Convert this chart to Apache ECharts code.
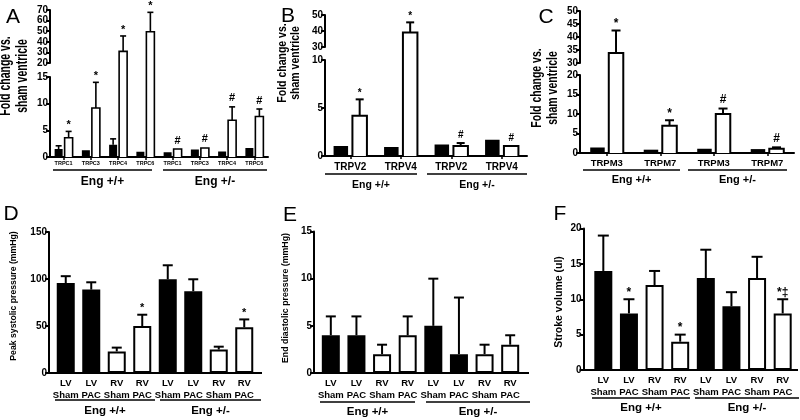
<!DOCTYPE html>
<html><head><meta charset="utf-8">
<script src="https://cdn.jsdelivr.net/npm/echarts@6/dist/echarts.min.js"></script>
<style>html,body{margin:0;padding:0;background:#fff}#c{width:800px;height:420px}</style>
</head><body><div id="c"></div>
<script>
// ---------------- DATA ----------------
const groups = ['Eng +/+', 'Eng +/-'];

// Panel A (TRPC), broken y axis
const aCats = ['TRPC1','TRPC3','TRPC4','TRPC6','TRPC1','TRPC3','TRPC4','TRPC6'];
const aSham = [1.5, 1.25, 2.3, 1.0, 0.9, 1.4, 1.05, 1.7];
const aShamErr = [2.1, 1.25, 3.4, 1.0, 0.9, 1.4, 1.05, 1.7];
const aPac = [3.6, 9.2, 31, 49.5, 1.5, 1.7, 6.9, 7.6];
const aPacErr = [4.8, 14, 45.5, 67.8, 1.5, 1.7, 9.4, 9.0];
const aMarks = ['*','*','*','*','#','#','#','#'];
const aLowAxis = [0, 15, 5];     // min, max, interval
const aHighAxis = [20, 70, 10];

// Panel B (TRPV)
const bCats = ['TRPV2','TRPV4','TRPV2','TRPV4'];
const bSham = [1.05, 0.93, 1.2, 1.7];
const bShamErr = [1.05, 0.93, 1.2, 1.7];
const bPac = [4.2, 39, 1.05, 1.05];
const bPacErr = [5.9, 45.4, 1.35, 1.05];
const bMarks = ['*','*','#','#'];
const bLowAxis = [0, 10, 5];
const bHighAxis = [30, 50, 10];

// Panel C (TRPM)
const cCats = ['TRPM3','TRPM7','TRPM3','TRPM7'];
const cSham = [1.4, 0.85, 1.1, 1.0];
const cShamErr = [1.4, 0.85, 1.1, 1.0];
const cPac = [33.8, 7.0, 10.0, 1.1];
const cPacErr = [42.5, 8.4, 11.4, 1.45];
const cMarks = ['*','*','#','#'];
const cLowAxis = [0, 20, 5];
const cHighAxis = [30, 50, 5];

// Panels D, E, F
const hemoCats = ['LV\nSham','LV\nPAC','RV\nSham','RV\nPAC','LV\nSham','LV\nPAC','RV\nSham','RV\nPAC'];
const dVals = [95.7, 88.7, 23, 50, 99.7, 87, 25, 48.6];
const dErr  = [103, 96.5, 27, 62, 114.6, 99.7, 28, 57];
const dMarks = ['','','','*','','','','*'];
const dAxis = [0, 150, 50];

const eVals = [4, 4, 2, 4, 5, 2, 2, 3];
const eErr  = [6, 6, 3, 6, 10, 8, 3, 4];
const eMarks = ['','','','','','','',''];
const eAxis = [0, 15, 5];

const fVals = [14, 8, 12, 4, 13, 9, 13, 8];
const fErr  = [19, 10, 14, 5, 17, 11, 16, 10];
const fMarks = ['','*','','*','','','','*‡'];
const fAxis = [0, 20, 5];

// ---------------- BUILD ----------------
const FONT = '"Liberation Sans", Arial, Helvetica, sans-serif';
const opt = {animation:false, backgroundColor:'#fff', grid:[], xAxis:[], yAxis:[], series:[], graphic:[]};

function addGrid(g){ opt.grid.push(Object.assign({containLabel:false}, g)); return opt.grid.length-1; }
function yAxisCfg(gi, ax, fs, offset){
  opt.yAxis.push({type:'value', gridIndex:gi, min:ax[0], max:ax[1], interval:ax[2], offset:offset||0,
    axisLine:{show:true, lineStyle:{color:'#000', width:2}},
    axisTick:{show:true, length:4, lineStyle:{color:'#000', width:2}},
    axisLabel:{color:'#000', fontSize:fs, fontWeight:'bold', fontFamily:FONT, margin:2},
    splitLine:{show:false}});
  return opt.yAxis.length-1;
}
function txt(x, y, text, font, extra, lh){
  const st = {text, font, fill:'#000', align:'center', verticalAlign:'middle', textAlign:'center', textVerticalAlign:'middle'};
  if (lh) st.lineHeight = lh;
  opt.graphic.push(Object.assign({type:'text', x, y, silent:true, z:10, style:st}, extra||{}));
}
function line(x1,y1,x2,y2,w){
  opt.graphic.push({type:'line', silent:true, z:10, shape:{x1,y1,x2,y2}, style:{stroke:'#000', lineWidth:w}});
}
function groupLabels(segs, y, ly, font){
  segs.forEach((s,k)=>{ line(s[0], y, s[1], y, 1.3); txt((s[0]+s[1])/2, ly, groups[k], font); });
}

function errSeries(xi, yi, vals, errs, marks, off, capW, lw, range, markFs, hashGap){
  opt.series.push({type:'custom', xAxisIndex:xi, yAxisIndex:yi, z:5, silent:true,
    data: vals.map((v,i)=>[i, v]),
    renderItem(params, api){
      const i = params.dataIndex, v = vals[i], e = errs[i];
      const ch = [];
      if (v < range[0] || v > range[1]) return {type:'group', children:ch};
      const x = api.coord([i, 0])[0] + off;
      const yv = api.coord([i, v])[1];
      let top = yv;
      if (e > v) {
        const ye = api.coord([i, Math.min(e, range[1])])[1];
        ch.push({type:'line', shape:{x1:x, y1:yv, x2:x, y2:ye}, style:{stroke:'#000', lineWidth:lw}});
        ch.push({type:'line', shape:{x1:x-capW/2, y1:ye, x2:x+capW/2, y2:ye}, style:{stroke:'#000', lineWidth:lw}});
        top = ye;
      }
      if (marks && marks[i]) {
        const gap = marks[i][0] === '#' ? hashGap : 0;
        ch.push({type:'text', x:x, y:top - 1 - gap,
          style:{text:marks[i], fill:'#000', font:'bold '+markFs+'px '+FONT, align:'center', verticalAlign:'bottom', textAlign:'center', textVerticalAlign:'bottom'}});
      }
      return {type:'group', children:ch};
    }});
}

// outline of the open (white) bars of a broken-axis panel, continuous across the break
function outlineSeries(xi, yi, vals, off, barW, bw, range, isLow, highBottom){
  opt.series.push({type:'custom', xAxisIndex:xi, yAxisIndex:yi, z:4, silent:true,
    data: vals.map((v,i)=>[i, v]),
    renderItem(params, api){
      const i = params.dataIndex, v = vals[i];
      const xc = api.coord([i,0])[0] + off, xL = xc - barW/2, xR = xc + barW/2;
      const st = {stroke:'#000', lineWidth:bw, fill:null, lineJoin:'miter'};
      if (isLow) {
        const y0 = api.coord([i, range[0]])[1];
        if (v > range[1]) {
          return {type:'group', children:[
            {type:'line', shape:{x1:xL, y1:y0, x2:xL, y2:highBottom}, style:st},
            {type:'line', shape:{x1:xR, y1:y0, x2:xR, y2:highBottom}, style:st}]};
        }
        const yT = api.coord([i, v])[1];
        return {type:'polyline', shape:{points:[[xL,y0],[xL,yT],[xR,yT],[xR,y0]]}, style:st};
      }
      if (!(v > range[0])) return {type:'group', children:[]};
      const yB = api.coord([i, range[0]])[1], yT = api.coord([i, Math.min(v, range[1])])[1];
      return {type:'polyline', shape:{points:[[xL,yB],[xL,yT],[xR,yT],[xR,yB]]}, style:st};
    }});
}

// broken-axis panel
function brokenPanel(p){
  const gl = addGrid({left:p.left, top:p.lowTop, width:p.width, height:p.lowH});
  const gh = addGrid({left:p.left, top:p.highTop, width:p.width, height:p.highH});
  opt.xAxis.push({type:'category', gridIndex:gl, data:p.cats,
    axisLine:{lineStyle:{color:'#000', width:2}},
    axisTick:{show:true, alignWithLabel:true, length:3, lineStyle:{color:'#000', width:1.5}},
    axisLabel:{color:'#000', fontSize:p.catFs, fontWeight:'bold', fontFamily:FONT, margin:p.catMargin, interval:0}});
  const xl = opt.xAxis.length-1;
  opt.xAxis.push({type:'category', gridIndex:gh, data:p.cats, show:false});
  const xh = opt.xAxis.length-1;
  const yl = yAxisCfg(gl, p.low, p.fs);
  const yh = yAxisCfg(gh, p.high, p.fs);
  const off = p.barW*(1+p.gap)/2;
  [[xl,yl],[xh,yh]].forEach(([xi,yi])=>{
    opt.series.push({type:'bar', xAxisIndex:xi, yAxisIndex:yi, data:p.sham, barWidth:p.barW, barGap:(p.gap*100)+'%',
      itemStyle:{color:'#000', borderColor:'#000', borderWidth:p.bw}, silent:true, z:2});
    opt.series.push({type:'bar', xAxisIndex:xi, yAxisIndex:yi, data:p.pac, barWidth:p.barW, barGap:(p.gap*100)+'%',
      itemStyle:{color:'#fff', borderWidth:0}, silent:true, z:2});
  });
  const highBottom = p.highTop + p.highH;
  outlineSeries(xl, yl, p.pac, off, p.barW, p.bw, p.low, true, highBottom);
  outlineSeries(xh, yh, p.pac, off, p.barW, p.bw, p.high, false, highBottom);
  errSeries(xl, yl, p.sham, p.shamErr, null, -off, p.capW, p.lw, p.low, p.markFs, p.hashGap);
  errSeries(xh, yh, p.sham, p.shamErr, null, -off, p.capW, p.lw, p.high, p.markFs, p.hashGap);
  errSeries(xl, yl, p.pac, p.pacErr, p.marks, off, p.capW, p.lw, p.low, p.markFs, p.hashGap);
  errSeries(xh, yh, p.pac, p.pacErr, p.marks, off, p.capW, p.lw, p.high, p.markFs, p.hashGap);
}

// single-axis panel
function simplePanel(p){
  const g = addGrid({left:p.left, top:p.top, width:p.width, height:p.height});
  opt.xAxis.push({type:'category', gridIndex:g, data:p.cats,
    axisLine:{lineStyle:{color:'#000', width:2}}, axisTick:{show:false},
    axisLabel:{color:'#000', fontSize:p.catFs, fontWeight:'bold', fontFamily:FONT, margin:p.catMargin, interval:0, lineHeight:p.catLH}});
  const xi = opt.xAxis.length-1;
  const yi = yAxisCfg(g, p.axis, p.fs, p.yOff);
  const cats = p.cats;
  opt.series.push({type:'bar', xAxisIndex:xi, yAxisIndex:yi, data:p.vals, barWidth:p.barW,
    itemStyle:{color:(pr)=> cats[pr.dataIndex].indexOf('LV')===0 ? '#000' : '#fff', borderColor:'#000', borderWidth:p.bw}, silent:true, z:2});
  errSeries(xi, yi, p.vals, p.errs, p.marks, 0, p.capW, p.lw, p.axis, p.markFs, 0);
  const yb = p.top + p.height;
  line(p.left - p.yOff - 1, yb, p.left + 1, yb, 2);
  line(p.left + p.width - 1, yb, p.xEnd, yb, 2);
}

// ---- Panel A
brokenPanel({left:50, width:218, lowTop:77, lowH:80, highTop:10, highH:53, low:aLowAxis, high:aHighAxis,
  cats:aCats, sham:aSham, shamErr:aShamErr, pac:aPac, pacErr:aPacErr, marks:aMarks,
  barW:8, gap:0.25, bw:1.6, capW:6, lw:1.6, fs:10, catFs:5.5, catMargin:3, markFs:11, hashGap:2});
groupLabels([[53,152],[163,267]], 170, 182, 'bold 12px '+FONT);

// ---- Panel B
brokenPanel({left:325, width:202, lowTop:60, lowH:96, highTop:15, highH:32, low:bLowAxis, high:bHighAxis,
  cats:bCats, sham:bSham, shamErr:bShamErr, pac:bPac, pacErr:bPacErr, marks:bMarks,
  barW:14.5, gap:0.3, bw:2, capW:8, lw:2, fs:10, catFs:10, catMargin:6, markFs:10, hashGap:2});
groupLabels([[325,417],[427,527]], 174, 185, 'bold 10.5px '+FONT);

// ---- Panel C
brokenPanel({left:580, width:214, lowTop:75, lowH:78, highTop:11, highH:52, low:cLowAxis, high:cHighAxis,
  cats:cCats, sham:cSham, shamErr:cShamErr, pac:cPac, pacErr:cPacErr, marks:cMarks,
  barW:14.5, gap:0.28, bw:2, capW:9, lw:2, fs:10, catFs:9.5, catMargin:5, markFs:12, hashGap:2});
groupLabels([[583,680],[688,787]], 170, 180, 'bold 11px '+FONT);

// ---- Panel D
simplePanel({left:53, width:204, top:232, height:141, yOff:4, xEnd:262, axis:dAxis, cats:hemoCats,
  vals:dVals, errs:dErr, marks:dMarks, barW:18, bw:2, capW:10, lw:2, fs:10, catFs:9.5, catMargin:4, catLH:12.5, markFs:11});
groupLabels([[55,155],[160,261]], 400, 411, 'bold 11.5px '+FONT);

// ---- Panel E
simplePanel({left:318, width:205, top:231.5, height:141.5, yOff:4, xEnd:529, axis:eAxis, cats:hemoCats,
  vals:eVals, errs:eErr, marks:eMarks, barW:18, bw:2, capW:10, lw:2, fs:10, catFs:9.5, catMargin:4, catLH:12.5, markFs:11});
groupLabels([[320,415],[426,530]], 402, 412, 'bold 11.5px '+FONT);

// ---- Panel F
simplePanel({left:590.5, width:205, top:228.5, height:141.5, yOff:7, xEnd:798, axis:fAxis, cats:hemoCats,
  vals:fVals, errs:fErr, marks:fMarks, barW:18, bw:2, capW:11, lw:2, fs:10, catFs:9.5, catMargin:4, catLH:12.5, markFs:12});
groupLabels([[592,690],[695,799]], 398, 408, 'bold 11.5px '+FONT);

// ---- panel letters
const LF = '21px '+FONT;
txt(13, 17, 'A', LF); txt(288, 16, 'B', LF); txt(546, 17, 'C', LF);
txt(11, 214, 'D', LF); txt(290, 215, 'E', LF); txt(560, 214, 'F', LF);

// ---- axis titles (rotated, read bottom to top)
const R = Math.PI/2;
const FC = 'Fold change vs.\nsham ventricle';
txt(14, 76, FC, 'bold 10.5px '+FONT, {rotation:R, scaleY:1.5}, 11);
txt(289, 63, FC, 'bold 10.5px '+FONT, {rotation:R, scaleY:1.23}, 11);
txt(545, 88, FC, 'bold 10.5px '+FONT, {rotation:R, scaleY:1.4}, 11);
txt(14, 296, 'Peak systolic pressure (mmHg)', 'bold 8.7px '+FONT, {rotation:R});
txt(286, 298, 'End diastolic pressure (mmHg)', 'bold 8.8px '+FONT, {rotation:R});
txt(559, 302, 'Stroke volume (ul)', 'bold 10.5px '+FONT, {rotation:R});

const chart = echarts.init(document.getElementById('c'), null, {renderer:'canvas'});
chart.setOption(opt);
</script></body></html>
